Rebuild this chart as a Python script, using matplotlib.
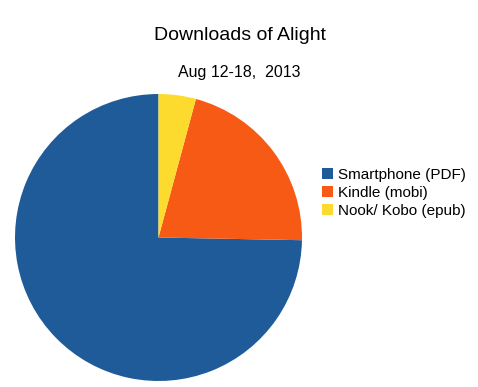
import matplotlib.pyplot as plt

labels = ["Smartphone (PDF)", "Kindle (mobi)", "Nook/ Kobo (epub)"]
shares = [74.7, 21.1, 4.2]
colors = ["#1f5b99", "#f65a14", "#fddb2e"]

W, H = 478, 387

plt.rcParams["font.family"] = ["Liberation Sans", "DejaVu Sans"]

fig = plt.figure(figsize=(W / 100, H / 100), dpi=100)
fig.patch.set_facecolor("white")

# pie area, ~287 px across
ax = fig.add_axes([15 / W, 6 / H, 287 / W, 287 / H])
wedges, _ = ax.pie(shares, colors=colors, startangle=90, counterclock=True,
                   wedgeprops=dict(linewidth=0))
ax.set_aspect("equal")
ax.set_xlim(-1, 1)
ax.set_ylim(-1, 1)
ax.axis("off")

fig.text(240 / W, 1 - 35 / H, "Downloads of Alight", ha="center", va="center", fontsize=14)
fig.text(239 / W, 1 - 73 / H, "Aug 12-18,  2013", ha="center", va="center", fontsize=11.5)

fig.legend(wedges, labels, loc="center left", bbox_to_anchor=(322 / W, 1 - 193 / H),
           frameon=False, fontsize=11, handlelength=0.75, handleheight=0.75,
           handletextpad=0.3, labelspacing=0.27, borderpad=0, borderaxespad=0)

fig.savefig("out.png", dpi=100)
